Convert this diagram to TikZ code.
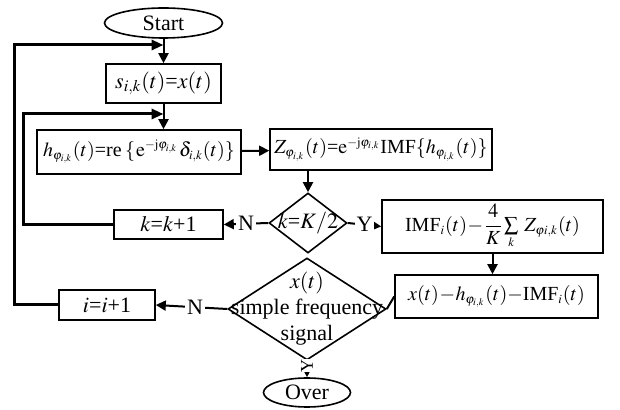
\documentclass[tikz,border=0pt]{standalone}
\usepackage{mathptmx}
\usepackage{fontspec}
\setmainfont{Liberation Serif}
\usetikzlibrary{shapes.geometric}
\usetikzlibrary{arrows.meta}
\DeclareMathSizes{10}{10}{6.3}{5}
\newcommand{\tightmath}{\thickmuskip=1mu\medmuskip=0.5mu\thinmuskip=1mu}
\tikzset{box/.style={rectangle, draw, line width=0.8pt, inner sep=0pt}}
\tikzset{term/.style={ellipse, draw, line width=0.8pt, inner sep=0pt}}
\tikzset{dec/.style={diamond, draw, line width=0.8pt, inner sep=0pt}}
\tikzset{flow/.style={line width=1pt, -{Triangle[length=5pt,width=5pt]}}}
\tikzset{back/.style={line width=1.5pt}}
\tikzset{yn/.style={fill=white, inner sep=1pt}}
\tikzset{formula/.style={font=\fontsize{10}{12}\selectfont\tightmath}}

\begin{document}
\begin{tikzpicture}[x=0.5pt, y=-0.5pt, font=\fontsize{11}{13}\selectfont\tightmath]

    \useasboundingbox (0,0) rectangle (620,410);

    \node[term, minimum width=59pt, minimum height=15pt] (start) at (163.5,23) {Start};
    \node[box, minimum width=57.5pt, minimum height=19.5pt] (s) at (163.5,83.5) {$s_{i,k}(t)$=$x(t)$};
    \node[box, formula, minimum width=102pt, minimum height=22pt] (h) at (139,152)
        {$h_{\varphi_{i,k}}(t)$=re\,$\{\,\mathrm{e}^{-\mathrm{j}\varphi_{i,k}}\,\delta_{i,k}(t)\}$};
    \node[box, formula, minimum width=111pt, minimum height=20.5pt] (z) at (381,149.5)
        {$Z_{\varphi_{i,k}}(t)$=$\mathrm{e}^{-\mathrm{j}\varphi_{i,k}}$IMF$\{h_{\varphi_{i,k}}(t)\}$};
    \node[dec, minimum width=39pt, minimum height=30pt, label=center:{$k$=$K/2$}] (d1) at (308,223) {};
    \node[box, minimum width=54.5pt, minimum height=14.5pt] (kk) at (168.5,224.5) {$k$=$k$+1};
    \node[box, formula, minimum width=110.5pt, minimum height=26.5pt] (imf) at (492.5,226.5)
        {IMF$_i(t)-\displaystyle\frac{4}{K}\textstyle\sum\limits_k\ Z_{\varphi i,k}(t)$};
    \node[box, formula, minimum width=101.5pt, minimum height=21.5pt] (xh) at (496.5,296.5)
        {$x(t)-h_{\varphi_{i,k}}(t)-$IMF$_i(t)$};
    \node[dec, minimum width=79pt, minimum height=51pt, align=center,
          label={[align=center]center:$x(t)$\\simple frequency\\signal}] (d2) at (307,309) {};
    \node[box, minimum width=48pt, minimum height=15pt] (ii) at (107,305) {$i$=$i$+1};
    \node[term, minimum width=43.5pt, minimum height=14.5pt] (over) at (307,392.5) {Over};

    \coordinate (j1) at (163.5,45);
    \coordinate (j2) at (163.5,114);

    \draw[flow] (start) -- (s);
    \draw[flow] (s) -- (s.south |- h.north);
    \draw[flow] (h) -- (z);
    \draw[flow] (d1.north |- z.south) -- (d1.north);
    \draw[flow] (d1.west) -- node[yn] {N} (kk.east);
    \draw[flow] (d1.east) -- node[yn] {Y} (imf.west);
    \draw[flow] (imf.south) -- (imf.south |- xh.north);
    \draw[line width=1pt] (xh.west) -- (d2.east);
    \draw[flow] (d2.west) -- node[yn, pos=0.45] {N} (ii.east);
    \draw[flow] (d2.south) -- node[yn, pos=0.3, rotate=90, inner sep=0pt, font=\small] {Y} (over.north);

    \draw[back, -{Triangle[length=6pt,width=5pt]}] (kk.west) -- ++(-90,0) |- (j2);
    \draw[back, -{Triangle[length=6pt,width=5pt]}] (ii.west) -- ++(-44,0) |- (j1);

\end{tikzpicture}
\end{document}
